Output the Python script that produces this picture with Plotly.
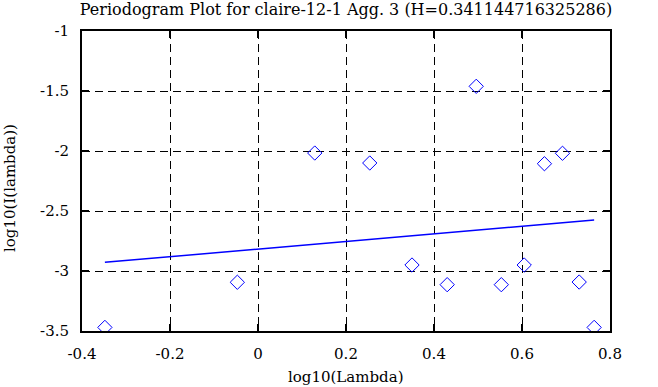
import plotly.graph_objects as go

# Data
log_lambda = [-0.348, -0.047, 0.129, 0.254, 0.350, 0.430, 0.496, 0.553, 0.605, 0.651, 0.692, 0.730, 0.764]
log_I = [-3.47, -3.094, -2.017, -2.10, -2.95, -3.114, -1.461, -3.114, -2.95, -2.106, -2.019, -3.092, -3.47]
fit_x = [-0.348, 0.764]
fit_y = [-2.928, -2.575]

x_ticks = [-0.4, -0.2, 0, 0.2, 0.4, 0.6, 0.8]
x_tick_labels = ["-0.4", "-0.2", "0", "0.2", "0.4", "0.6", "0.8"]
y_ticks = [-3.5, -3, -2.5, -2, -1.5, -1]
y_tick_labels = ["-3.5", "-3", "-2.5", "-2", "-1.5", "-1"]

title = "Periodogram Plot for claire-12-1 Agg. 3 (H=0.341144716325286)"
x_title = "log10(Lambda)"
y_title = "log10(I(lambda))"
FONT = "DejaVu Serif"

fig = go.Figure()
fig.add_trace(go.Scatter(
    x=log_lambda, y=log_I, mode="markers",
    marker=dict(symbol="diamond-open", size=11, color="#0000ff", line=dict(width=1, color="#0000ff")),
    showlegend=False, hoverinfo="skip"))
fig.add_trace(go.Scatter(
    x=fit_x, y=fit_y, mode="lines",
    line=dict(color="#0000ff", width=1.5),
    showlegend=False, hoverinfo="skip"))

axis_common = dict(
    showline=True, linecolor="black", linewidth=2, mirror="ticks",
    ticks="inside", ticklen=7, tickwidth=2, tickcolor="black",
    showgrid=True, gridcolor="black", gridwidth=1, griddash="8px,5px",
    zeroline=False, automargin=False,
    tickfont=dict(family=FONT, size=15, color="black"),
)

fig.update_xaxes(range=[-0.4, 0.8], tickvals=x_ticks, ticktext=x_tick_labels,
                 ticklabelstandoff=8, **axis_common)
fig.update_yaxes(range=[-3.5, -1], tickvals=y_ticks, ticktext=y_tick_labels,
                 ticklabelstandoff=8, **axis_common)

fig.add_annotation(text=x_title, xref="paper", yref="paper", x=0.5, y=-46/300,
                   xanchor="center", yanchor="middle", showarrow=False,
                   font=dict(family=FONT, size=15, color="black"))
fig.add_annotation(text=y_title, xref="paper", yref="paper", x=-72/528, y=0.5 - 7/300,
                   xanchor="center", yanchor="middle", showarrow=False, textangle=-90,
                   font=dict(family=FONT, size=15, color="black"))

fig.update_layout(
    width=658, height=387,
    margin=dict(l=82, r=48, t=31, b=56, autoexpand=False),
    paper_bgcolor="white", plot_bgcolor="white",
    title=dict(text=title, x=346/658, xanchor="center", y=1-9/387, yanchor="middle",
               font=dict(family=FONT, size=16, color="black")),
    font=dict(family=FONT, color="black"),
)

fig.write_html("out.html", config={"displayModeBar": False},
               post_script="document.body.style.margin='0px';document.body.style.overflow='hidden';")
